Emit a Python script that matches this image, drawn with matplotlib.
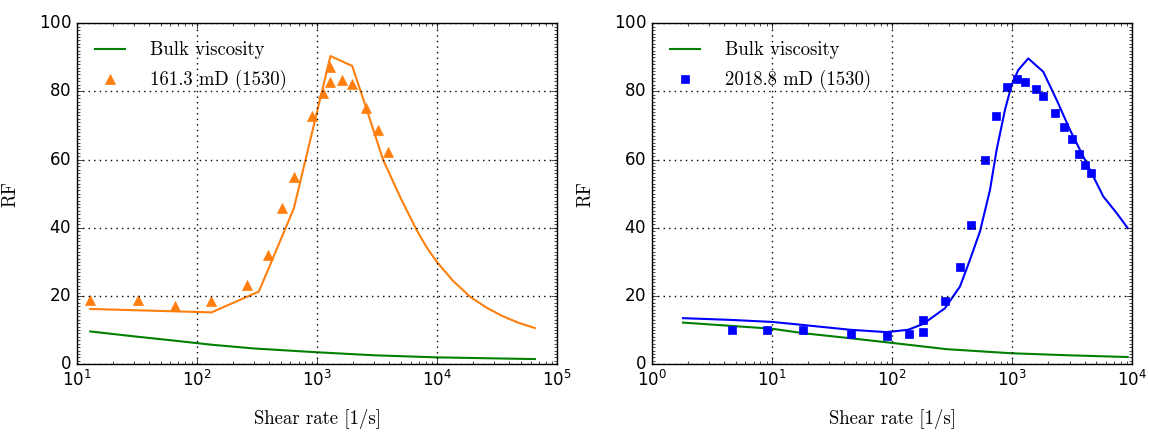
import matplotlib
matplotlib.use("Agg")
import matplotlib.pyplot as plt
from matplotlib.ticker import MultipleLocator

plt.style.use('classic')
plt.rcParams['figure.facecolor'] = 'white'
plt.rcParams['axes.formatter.use_mathtext'] = True

# ------------------------
# Left panel: 161.3 mD
# ------------------------
left_line_x = [12.9, 132, 327, 640, 1291, 1959, 2600, 3548, 5000, 6730, 8200, 9880, 13500, 18750, 26000, 35500, 48000, 65100]
left_line_y = [16.2, 15.2, 21.3, 45.7, 90.4, 87.5, 74.5, 59.9, 48.5, 39.4, 34.2, 30.1, 24.5, 19.8, 16.5, 14.0, 12.1, 10.6]

left_pts_x = [12.9, 32.5, 65.2, 130, 259, 388, 514, 647, 903, 1122, 1291, 1291, 1615, 1945, 2576, 3243, 3909]
left_pts_y = [18.9, 18.7, 17.1, 18.5, 23.2, 31.9, 45.9, 54.9, 72.9, 79.7, 87.1, 82.7, 83.3, 82.2, 75.2, 68.6, 62.2]

left_bulk_x = [12.9, 31, 65, 132, 300, 988, 3000, 9880, 30000, 65100]
left_bulk_y = [9.6, 8.1, 6.9, 5.7, 4.6, 3.5, 2.6, 2.0, 1.7, 1.5]

# ------------------------
# Right panel: 2018.8 mD
# ------------------------
right_line_x = [1.81, 4.44, 10, 18.1, 44.4, 89.8, 136, 181, 275, 367, 444, 538, 652, 741, 869, 988, 1122, 1359,
                1811, 2344, 3027, 3908, 5730, 7413, 9160]
right_line_y = [13.5, 13.0, 12.4, 11.5, 10.1, 9.4, 10.1, 11.8, 16.4, 22.8, 30.6, 38.9, 51.1, 62.9, 74.6, 81.9, 86.3, 89.7,
                85.8, 77.5, 68.7, 60.9, 49.2, 44.3, 39.9]

right_pts_x = [4.59, 9.15, 18.1, 45.3, 90.3, 137, 181, 181, 273, 364, 450, 592, 726, 903, 1087, 1268, 1575, 1803,
               2254, 2698, 3162, 3594, 4058, 4500]
right_pts_y = [10.1, 10.1, 9.9, 8.8, 8.4, 8.8, 13.0, 9.4, 18.4, 28.5, 40.7, 59.9, 72.7, 81.4, 83.8, 82.9, 80.7, 78.8,
               73.6, 69.7, 66.1, 61.7, 58.3, 56.0]

right_bulk_x = [1.81, 10, 18.1, 45, 102, 284, 988, 3000, 9160]
right_bulk_y = [12.2, 10.4, 9.1, 7.6, 6.2, 4.4, 3.2, 2.6, 2.1]

orange = '#ff7f0e'
serif = {'family': 'cmr10', 'size': 13.5}

fig = plt.figure(figsize=(11.49, 4.32), dpi=100)
ax1 = fig.add_axes([0.067, 0.157, 0.418, 0.789])
ax2 = fig.add_axes([0.5675, 0.157, 0.418, 0.789])

ax1.plot(left_bulk_x, left_bulk_y, color='g', lw=1.5, label='Bulk viscosity')
ax1.plot(left_pts_x, left_pts_y, ls='none', marker='^', ms=7, color=orange, mec=orange, label='161.3 mD (1530)')
ax1.plot(left_line_x, left_line_y, color=orange, lw=1.5)
ax1.set_xlim(10, 1e5)

ax2.plot(right_bulk_x, right_bulk_y, color='g', lw=1.5, label='Bulk viscosity')
ax2.plot(right_pts_x, right_pts_y, ls='none', marker='s', ms=6, color='b', mec='b', label='2018.8 mD (1530)')
ax2.plot(right_line_x, right_line_y, color='b', lw=1.5)
ax2.set_xlim(1, 1e4)

for ax in (ax1, ax2):
    ax.set_xscale('log')
    ax.set_ylim(0, 100)
    ax.yaxis.set_minor_locator(MultipleLocator(1))
    ax.tick_params(which='minor', length=2)
    ax.grid(True, which='major', color='k', linestyle=':', linewidth=1)
    ax.set_xlabel('Shear rate [1/s]', fontdict=serif, labelpad=14)
    ax.set_ylabel('RF', fontdict=serif, labelpad=14)
    ax.legend(loc='upper left', frameon=False, numpoints=1, prop=serif,
              handlelength=1.6, handletextpad=1.35, labelspacing=0.58,
              borderaxespad=0.55)

fig.savefig('out.png', dpi=100, facecolor='white')
